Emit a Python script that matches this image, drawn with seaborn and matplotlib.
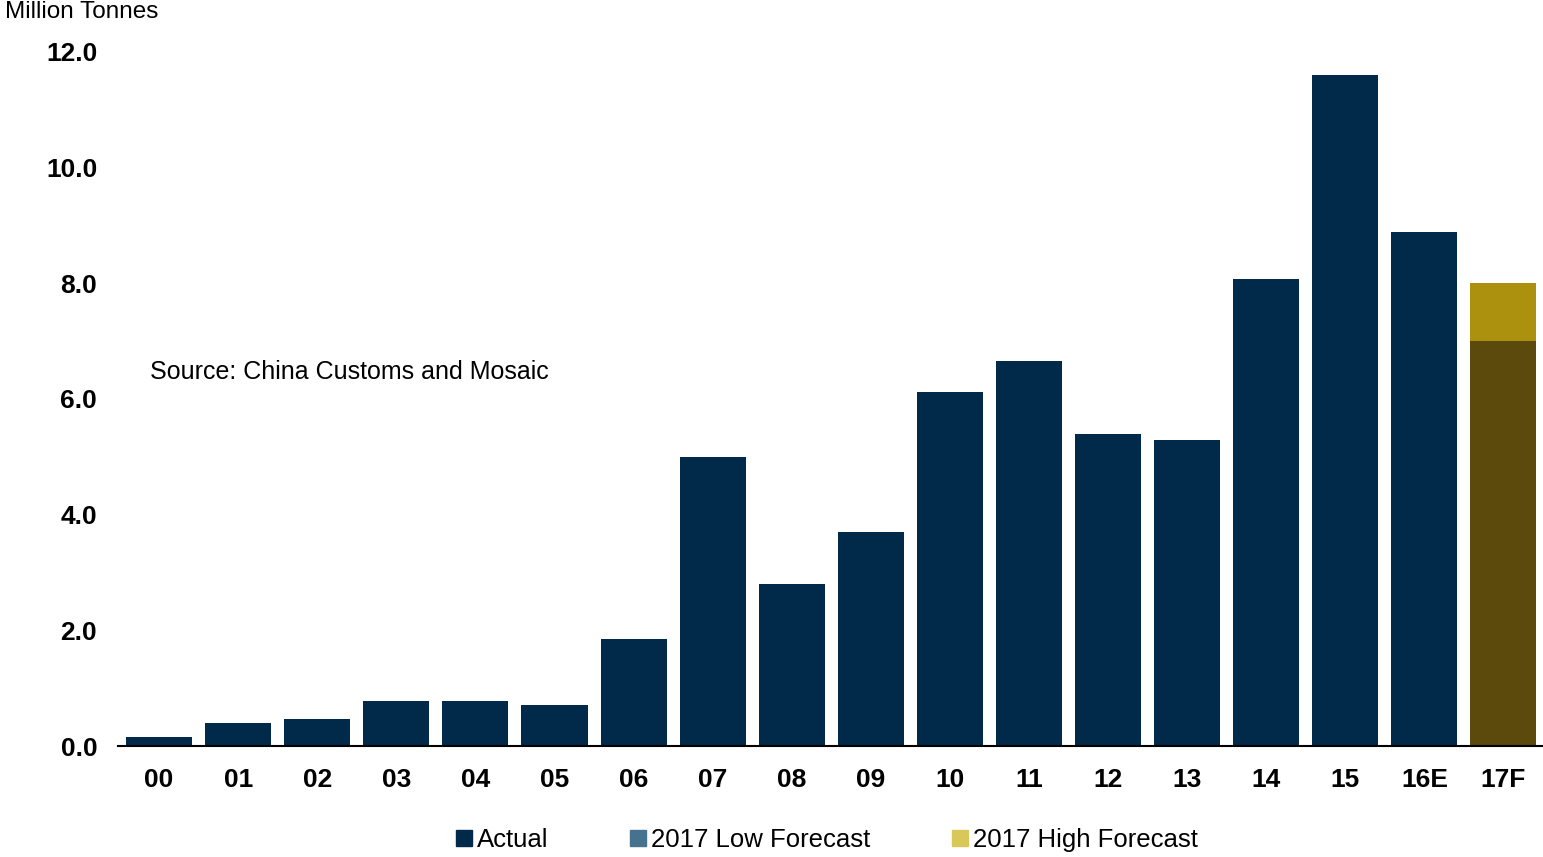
import matplotlib
matplotlib.use("Agg")
import matplotlib.pyplot as plt
import seaborn as sns
import pandas as pd
from matplotlib.patches import Patch

categories = ["00", "01", "02", "03", "04", "05", "06", "07", "08", "09",
              "10", "11", "12", "13", "14", "15", "16E", "17F"]
actual_years = categories[:17]
actual_values = [0.16, 0.40, 0.47, 0.78, 0.78, 0.71, 1.85, 5.00, 2.80, 3.70,
                 6.12, 6.66, 5.40, 5.29, 8.08, 11.60, 8.89]
forecast_year = ["17F"]
low_forecast = [7.0]
high_forecast = [8.0]
y_ticks = [0, 2, 4, 6, 8, 10, 12]
legend_labels = ["Actual", "2017 Low Forecast", "2017 High Forecast"]

sns.set_style("white")
plt.rcParams["font.family"] = ["Liberation Sans", "DejaVu Sans"]
plt.rcParams["text.color"] = "black"
plt.rcParams["xtick.color"] = "black"
plt.rcParams["ytick.color"] = "black"

fig = plt.figure(figsize=(15.43, 8.57), dpi=100)
ax = fig.add_axes([118 / 1543, 1 - 746 / 857, 1 - 118 / 1543, (746 - 52) / 857])

df_act = pd.DataFrame({"year": actual_years, "value": actual_values})
df_high = pd.DataFrame({"year": forecast_year, "value": high_forecast})
df_low = pd.DataFrame({"year": forecast_year, "value": low_forecast})

bw = 0.835
sns.barplot(data=df_act, x="year", y="value", order=categories, color="#012a4a",
            saturation=1, width=bw, ax=ax, linewidth=0)
sns.barplot(data=df_high, x="year", y="value", order=categories, color="#ab910e",
            saturation=1, width=bw, ax=ax, linewidth=0)
sns.barplot(data=df_low, x="year", y="value", order=categories, color="#5b4a0b",
            saturation=1, width=bw, ax=ax, linewidth=0)

ax.set_xlim(-0.52, 17.5)
ax.set_ylim(0, 12)
ax.set_yticks(y_ticks)
ax.set_yticklabels([f"{v:.1f}" for v in y_ticks], fontsize=19, fontweight="bold",
                   color="black")
ax.set_xticks(range(len(categories)))
ax.set_xticklabels(categories, fontsize=19, fontweight="bold", color="black")
ax.tick_params(axis="both", length=0)
ax.tick_params(axis="y", pad=15)
ax.tick_params(axis="x", pad=16)
ax.set_xlabel("")
ax.set_ylabel("")
for s in ["top", "right", "left"]:
    ax.spines[s].set_visible(False)
ax.spines["bottom"].set_color("black")
ax.spines["bottom"].set_linewidth(1.5)
ax.grid(False)

ax.text(-0.12, 6.47, "Source: China Customs and Mosaic", fontsize=18,
        va="center", ha="left", color="black")
fig.text(0.003, 1 - 12 / 857, "Million Tonnes", fontsize=17.5, va="center", ha="left",
         color="black")

handles = [Patch(color="#012a4a"), Patch(color="#46728f"), Patch(color="#d8c85a")]
fig.legend(handles, legend_labels, loc="center", bbox_to_anchor=(0.536, 1 - 840 / 857),
           ncol=3, frameon=False, fontsize=18.5, handlelength=0.6, handleheight=0.6,
           handletextpad=0.2, columnspacing=3.2, labelcolor="black")

fig.savefig("out.png", dpi=100)
